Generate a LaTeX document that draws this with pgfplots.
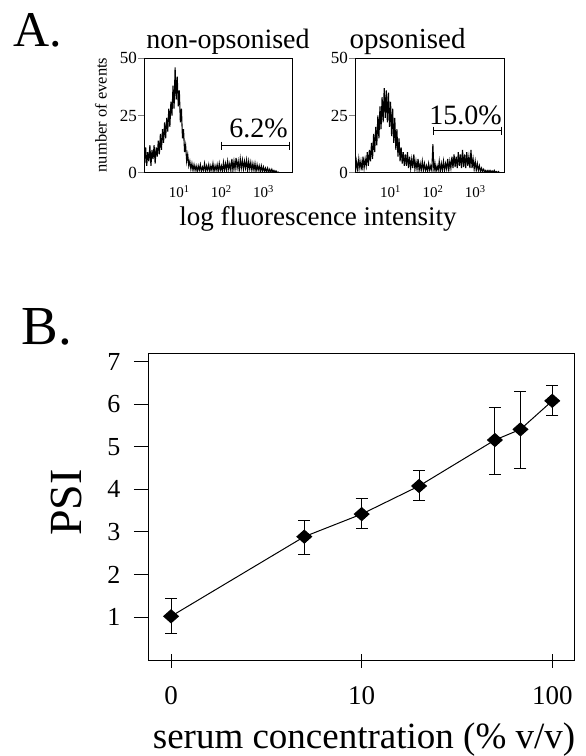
\documentclass[border=0pt]{standalone}
\usepackage{fontspec}
\setmainfont{Liberation Serif}
\usepackage{pgfplots}
\usepackage{pgfplotstable}
\pgfplotsset{compat=1.18}

% flow histograms, x = log10 of fluorescence channel
\pgfplotstableread[row sep=\\]{x y\\
0.150 10\\ 0.175 4\\ 0.200 11\\ 0.225 3\\ 0.250 9\\ 0.275 5\\ 0.300 12\\ 0.325 3\\ 0.350 10\\ 0.375 6\\
0.400 12\\ 0.425 4\\ 0.450 11\\ 0.475 7\\ 0.500 14\\ 0.525 8\\ 0.550 17\\ 0.575 10\\ 0.600 19\\ 0.625 13\\
0.650 22\\ 0.675 15\\ 0.700 24\\ 0.725 18\\ 0.750 28\\ 0.775 20\\ 0.800 31\\ 0.825 25\\ 0.850 38\\ 0.875 28\\
0.900 46\\ 0.925 32\\ 0.950 42\\ 0.975 29\\ 1.000 36\\ 1.025 22\\ 1.050 28\\ 1.075 15\\ 1.100 19\\ 1.125 9\\
1.150 12\\ 1.175 5\\ 1.200 8\\ 1.225 3\\ 1.250 5\\ 1.275 1.5\\ 1.300 4\\ 1.325 1\\ 1.350 3.5\\ 1.375 1\\
1.400 3\\ 1.425 0.5\\ 1.450 3\\ 1.475 1\\ 1.500 3.5\\ 1.525 0.5\\ 1.550 2.5\\ 1.575 1\\ 1.600 4\\ 1.625 0.5\\
1.650 3\\ 1.675 1\\ 1.700 3.5\\ 1.725 0.5\\ 1.750 3\\ 1.775 1\\ 1.800 4\\ 1.825 0.5\\ 1.850 3\\ 1.875 1\\
1.900 3.5\\ 1.925 0.5\\ 1.950 4\\ 1.975 1\\ 2.000 3\\ 2.025 0.5\\ 2.050 4.5\\ 2.075 1\\ 2.100 4\\ 2.125 1\\
2.150 5\\ 2.175 1.5\\ 2.200 4\\ 2.225 1\\ 2.250 6\\ 2.275 1\\ 2.300 5\\ 2.325 1.5\\ 2.350 6.5\\ 2.375 2\\
2.400 5\\ 2.425 1\\ 2.450 6\\ 2.475 2\\ 2.500 5.5\\ 2.525 1.5\\ 2.550 5\\ 2.575 2\\ 2.600 5.5\\ 2.625 1\\
2.650 5\\ 2.675 1.5\\ 2.700 4.5\\ 2.725 1\\ 2.750 4\\ 2.775 1\\ 2.800 4\\ 2.825 0.5\\ 2.850 3.5\\ 2.875 1\\
2.900 3\\ 2.925 0.5\\ 2.950 3\\ 2.975 0.5\\ 3.000 2.5\\ 3.025 0.5\\ 3.050 2\\ 3.075 0.3\\ 3.100 2\\ 3.125 0.3\\
3.150 1.5\\ 3.175 0.2\\ 3.200 1.5\\ 3.225 0.2\\ 3.250 1\\ 3.275 0.2\\ 3.300 0.8\\ 3.325 0\\ 3.350 0.3\\ 3.375 0\\
}\nonops

\pgfplotstableread[row sep=\\]{x y\\
0.150 4\\ 0.175 1\\ 0.200 5\\ 0.225 1\\ 0.250 6\\ 0.275 2\\ 0.300 5\\ 0.325 1\\ 0.350 7\\ 0.375 2\\
0.400 6\\ 0.425 3\\ 0.450 9\\ 0.475 3\\ 0.500 10\\ 0.525 5\\ 0.550 13\\ 0.575 6\\ 0.600 17\\ 0.625 9\\
0.650 20\\ 0.675 12\\ 0.700 25\\ 0.725 15\\ 0.750 29\\ 0.775 19\\ 0.800 33\\ 0.825 22\\ 0.850 37\\ 0.875 24\\
0.900 36\\ 0.925 22\\ 0.950 35\\ 0.975 20\\ 1.000 31\\ 1.025 16\\ 1.050 28\\ 1.075 13\\ 1.100 24\\ 1.125 10\\
1.150 19\\ 1.175 7\\ 1.200 15\\ 1.225 5\\ 1.250 11\\ 1.275 4\\ 1.300 9\\ 1.325 3\\ 1.350 8\\ 1.375 3\\
1.400 9\\ 1.425 2\\ 1.450 7\\ 1.475 2\\ 1.500 6\\ 1.525 2\\ 1.550 8\\ 1.575 1.5\\ 1.600 5\\ 1.625 1.5\\
1.650 6\\ 1.675 1\\ 1.700 4\\ 1.725 1\\ 1.750 5\\ 1.775 1\\ 1.800 4\\ 1.825 1\\ 1.850 3\\ 1.875 0.5\\
1.900 4\\ 1.925 1\\ 1.950 3\\ 1.975 1\\ 2.000 12.5\\ 2.025 0.5\\ 2.050 4\\ 2.075 0.5\\ 2.100 3\\ 2.125 1\\
2.150 5\\ 2.175 0.5\\ 2.200 4\\ 2.225 1\\ 2.250 5\\ 2.275 1\\ 2.300 4\\ 2.325 1.5\\ 2.350 6\\ 2.375 1\\
2.400 5\\ 2.425 2\\ 2.450 7\\ 2.475 2\\ 2.500 8\\ 2.525 2.5\\ 2.550 7\\ 2.575 2\\ 2.600 9\\ 2.625 3\\
2.650 8\\ 2.675 2\\ 2.700 10\\ 2.725 2.5\\ 2.750 8\\ 2.775 2\\ 2.800 9\\ 2.825 3\\ 2.850 7\\ 2.875 2\\
2.900 10\\ 2.925 2\\ 2.950 6\\ 2.975 1.5\\ 3.000 5\\ 3.025 1\\ 3.050 4\\ 3.075 1\\ 3.100 3\\ 3.125 0.5\\
3.150 2\\ 3.175 0.5\\ 3.200 1.5\\ 3.225 0.3\\ 3.250 1\\ 3.275 0.2\\ 3.300 1\\ 3.325 0.2\\ 3.350 1\\ 3.375 0.2\\
3.400 0.8\\ 3.425 0.1\\ 3.450 1\\ 3.475 0.1\\ 3.500 0.5\\ 3.525 0\\ 3.550 0.5\\ 3.575 0\\
}\ops

\pgfplotsset{
  histo/.style={
    scale only axis, width=148pt, height=114.4pt,
    xmin=0.16, xmax=3.68, ymin=0, ymax=50,
    axis line style={line width=1pt},
    xtick={1,2,3},
    xticklabels={10\textsuperscript{1},10\textsuperscript{2},10\textsuperscript{3}},
    ytick={0,25,50},
    xtick pos=bottom, ytick pos=left,
    tick align=outside, major tick length=6pt,
    x tick style={draw=none},
    tick style={line width=0.8pt},
    /pgf/number format/assume math mode=true,
    yticklabel style={font=\fontsize{17}{17}\selectfont, inner sep=1pt},
    xticklabel style={font=\fontsize{15}{15}\selectfont, yshift=-3pt},
  }
}

\begin{document}
\begin{tikzpicture}
\path[use as bounding box] (0,0) rectangle (586pt,756pt);

\begin{axis}[histo, at={(144pt,583.3pt)}, anchor=south west]
\addplot[black, line width=1.1pt, no marks] table[x=x,y=y] {\nonops};
\addplot[black, line width=0.8pt, mark=|, mark size=4pt] coordinates {(2.01,11.8) (3.61,11.8)};
\end{axis}

\begin{axis}[histo, at={(355pt,583.3pt)}, anchor=south west, width=149pt]
\addplot[black, line width=1.1pt, no marks] table[x=x,y=y] {\ops};
\addplot[black, line width=0.8pt, mark=|, mark size=4pt] coordinates {(2.02,18.4) (3.62,18.4)};
\end{axis}

\begin{axis}[at={(148pt,95pt)}, anchor=south west, scale only axis,
  width=426pt, height=307pt,
  xmin=-0.121, xmax=2.114, ymin=-0.03, ymax=7.18,
  xtick={0,1,2}, xticklabels={0,10,100},
  ytick={1,2,3,4,5,6,7},
  xtick pos=bottom, ytick pos=left,
  xtick align=center, ytick align=outside,
  major tick length=14pt,
  axis line style={line width=1pt},
  tick style={line width=1pt, black},
  /pgf/number format/assume math mode=true,
  yticklabel style={font=\fontsize{26}{26}\selectfont, xshift=-10pt},
  xticklabel style={font=\fontsize{27}{27}\selectfont, yshift=-15pt},
]
\addplot[black, line width=1pt, mark=diamond*, mark size=6.5pt,
  mark options={xscale=1.5, fill=black, solid},
  error bars/.cd, y dir=both, y explicit,
  error bar style={line width=1pt},
  error mark options={rotate=90, mark size=6pt, line width=1pt}]
coordinates {
(0,1.02) += (0,0.42) -= (0,0.40)
(0.699,2.89) += (0,0.39) -= (0,0.43)
(1,3.42) += (0,0.36) -= (0,0.34)
(1.301,4.08) += (0,0.36) -= (0,0.34)
(1.699,5.16) += (0,0.77) -= (0,0.81)
(1.833,5.41) += (0,0.90) -= (0,0.92)
(2,6.08) += (0,0.36) -= (0,0.35)
};
\end{axis}

\node[anchor=base west, font=\fontsize{50}{50}\selectfont] at (10pt,709pt) {A.};
\node[anchor=base west, font=\fontsize{55}{55}\selectfont] at (18pt,411pt) {B.};
\node[anchor=base, font=\fontsize{28}{28}\selectfont] at (228pt,707pt) {non-opsonised};
\node[anchor=base, font=\fontsize{29}{29}\selectfont] at (407.5pt,707pt) {opsonised};
\node[rotate=90, font=\fontsize{16.5}{16.5}\selectfont] at (101pt,641pt) {number of events};
\node[anchor=base, font=\fontsize{27}{27}\selectfont] at (318pt,530.6pt) {log fluorescence intensity};
\node[anchor=base east, inner sep=0pt, font=\fontsize{28}{28}\selectfont] at (288pt,618pt) {6.2\%};
\node[anchor=base east, inner sep=0pt, font=\fontsize{28}{28}\selectfont] at (502pt,631pt) {15.0\%};
\node[rotate=90, font=\fontsize{46}{46}\selectfont] at (66pt,253.5pt) {PSI};
\node[anchor=base, inner sep=0pt, font=\fontsize{37}{37}\selectfont] at (364pt,8pt) {serum concentration (\% v/v)};
\end{tikzpicture}
\end{document}
